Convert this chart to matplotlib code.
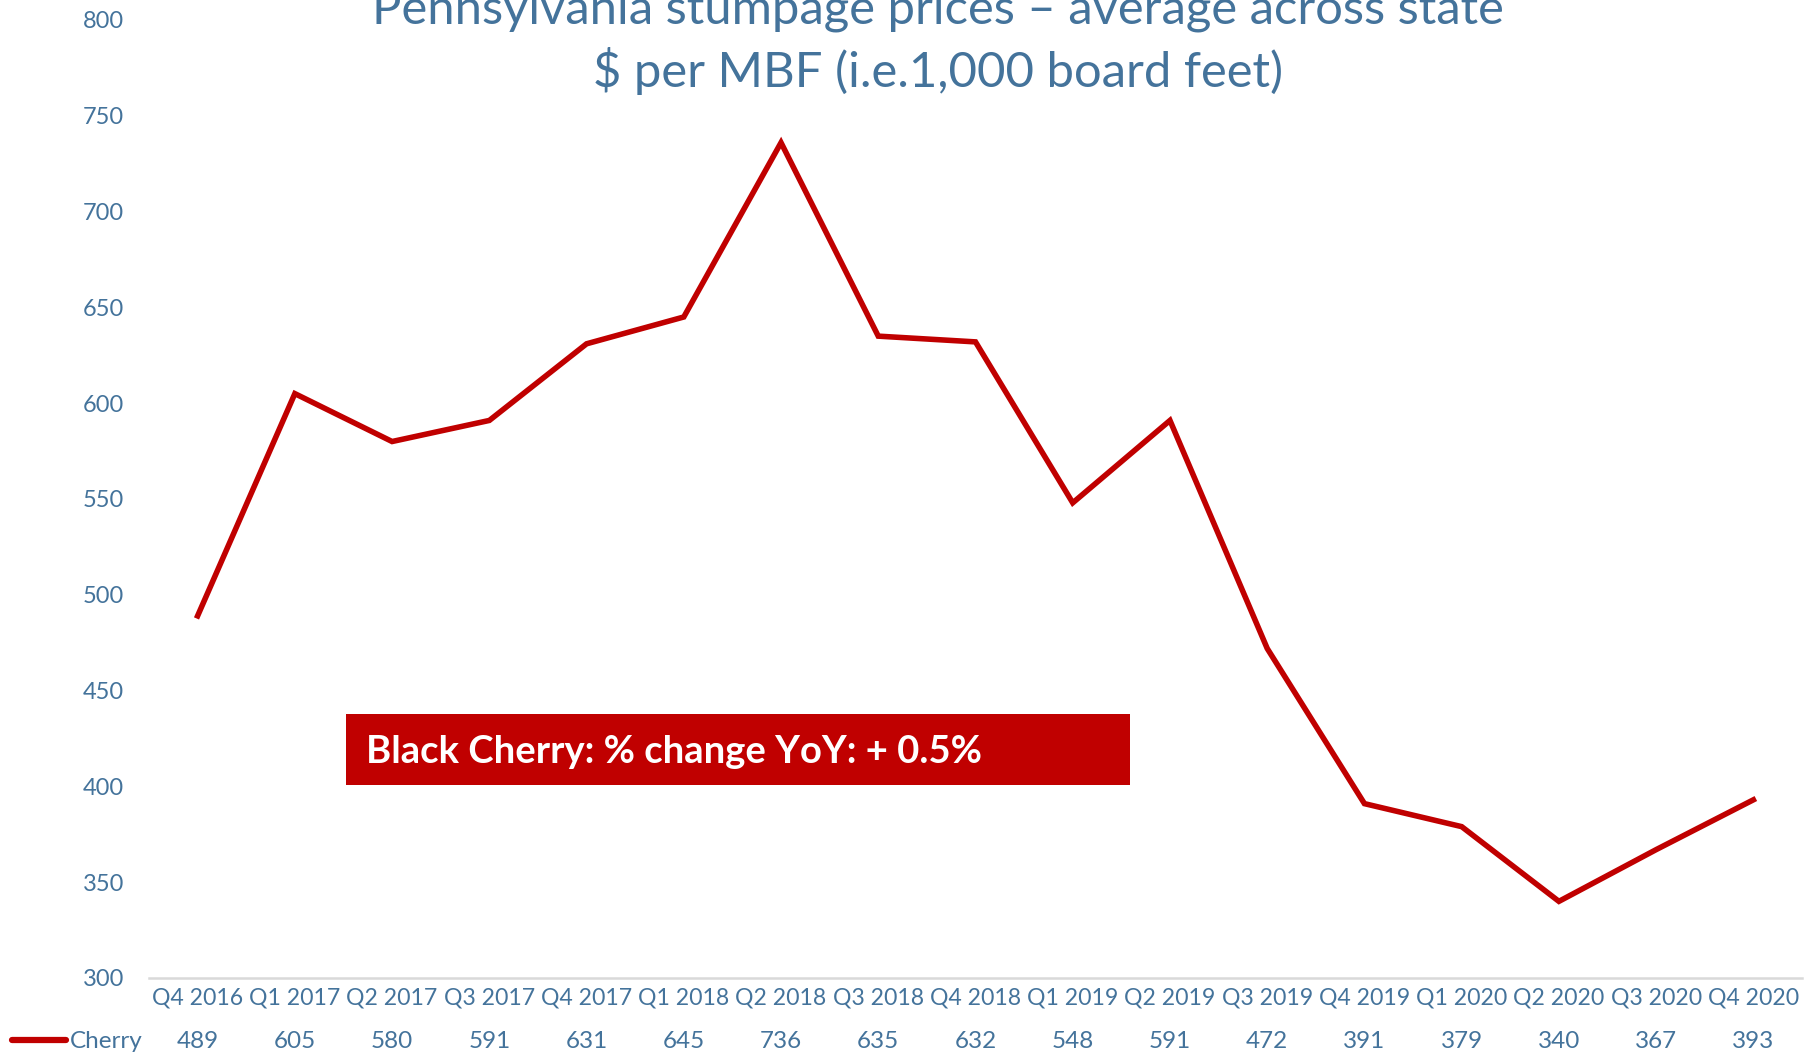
import matplotlib
matplotlib.use("Agg")
import matplotlib.pyplot as plt
import matplotlib.transforms as mtransforms
from matplotlib.patches import Rectangle

categories = ["Q4 2016", "Q1 2017", "Q2 2017", "Q3 2017", "Q4 2017", "Q1 2018",
              "Q2 2018", "Q3 2018", "Q4 2018", "Q1 2019", "Q2 2019", "Q3 2019",
              "Q4 2019", "Q1 2020", "Q2 2020", "Q3 2020", "Q4 2020"]
cherry = [489, 605, 580, 591, 631, 645, 736, 635, 632, 548, 591, 472, 391, 379, 340, 367, 393]
series_name = "Cherry"
yticks = [300, 350, 400, 450, 500, 550, 600, 650, 700, 750, 800]
title1 = "Pennsylvania stumpage prices \u2013 average across state"
title2 = "$ per MBF (i.e.1,000 board feet)"
note = "Black Cherry: % change YoY: + 0.5%"

FONT = ["Lato", "DejaVu Sans"]
plt.rcParams['font.family'] = FONT
TXT = "#44739b"
RED = "#c00000"

W, H = 1811, 1055
fig = plt.figure(figsize=(W / 100, H / 100), dpi=100)
renderer = fig.canvas.get_renderer()


def fit(t, target_px):
    w = t.get_window_extent(renderer=renderer).width
    t.set_fontsize(t.get_fontsize() * target_px / w)
    return t


ax = fig.add_axes([149 / W, 1 - 978 / H, (1802 - 149) / W, (978 - 20) / H])

x = list(range(len(categories)))
ax.plot(x, cherry, color=RED, lw=4.0, solid_joinstyle='miter', clip_on=False)
ax.set_xlim(-0.5, len(categories) - 0.5)
ax.set_ylim(300, 800)
ax.set_yticks(yticks)
ax.set_yticklabels([str(v) for v in yticks], color=TXT, fontsize=17)
ax.tick_params(axis='y', length=0, pad=18)
ax.set_xticks([])
for s in ['top', 'right', 'left']:
    ax.spines[s].set_visible(False)
ax.spines['bottom'].set_color('#d9d9d9')
ax.spines['bottom'].set_linewidth(1.8)

trans = mtransforms.blended_transform_factory(ax.transData, fig.transFigure)
cat_texts = []
for i, (c, v) in enumerate(zip(categories, cherry)):
    t = fig.text(i, 1 - 1005 / H, c, transform=trans, ha='center', va='baseline',
                 color=TXT, fontsize=17)
    cat_texts.append(t)
    fig.text(i, 1 - 1048 / H, str(v), transform=trans, ha='center', va='baseline',
             color=TXT, fontsize=17.5)
fit(cat_texts[0], 91)
for t in cat_texts[1:]:
    t.set_fontsize(cat_texts[0].get_fontsize())

fig.lines.append(plt.Line2D([12 / W, 66 / W], [1 - 1040 / H, 1 - 1040 / H],
                            transform=fig.transFigure, color=RED, lw=4.5,
                            solid_capstyle='round'))
fig.text(70 / W, 1 - 1048 / H, series_name, ha='left', va='baseline', color=TXT, fontsize=17.5)

t1 = fig.text(938 / W, 1 - 23 / H, title1, ha='center', va='baseline', color=TXT, fontsize=38)
t2 = fig.text(938 / W, 1 - 87 / H, title2, ha='center', va='baseline', color=TXT, fontsize=38)
fit(t2, 691)
t1.set_fontsize(t2.get_fontsize())

fig.patches.append(Rectangle((346 / W, 1 - 785 / H), (1130 - 346) / W, (785 - 714) / H,
                             transform=fig.transFigure, facecolor=RED, edgecolor='none'))
tn = fig.text(366 / W, 1 - 763 / H, note, ha='left', va='baseline', color='white',
              fontsize=32, fontweight='bold')
fit(tn, 617)

fig.savefig("out.png", dpi=100)
